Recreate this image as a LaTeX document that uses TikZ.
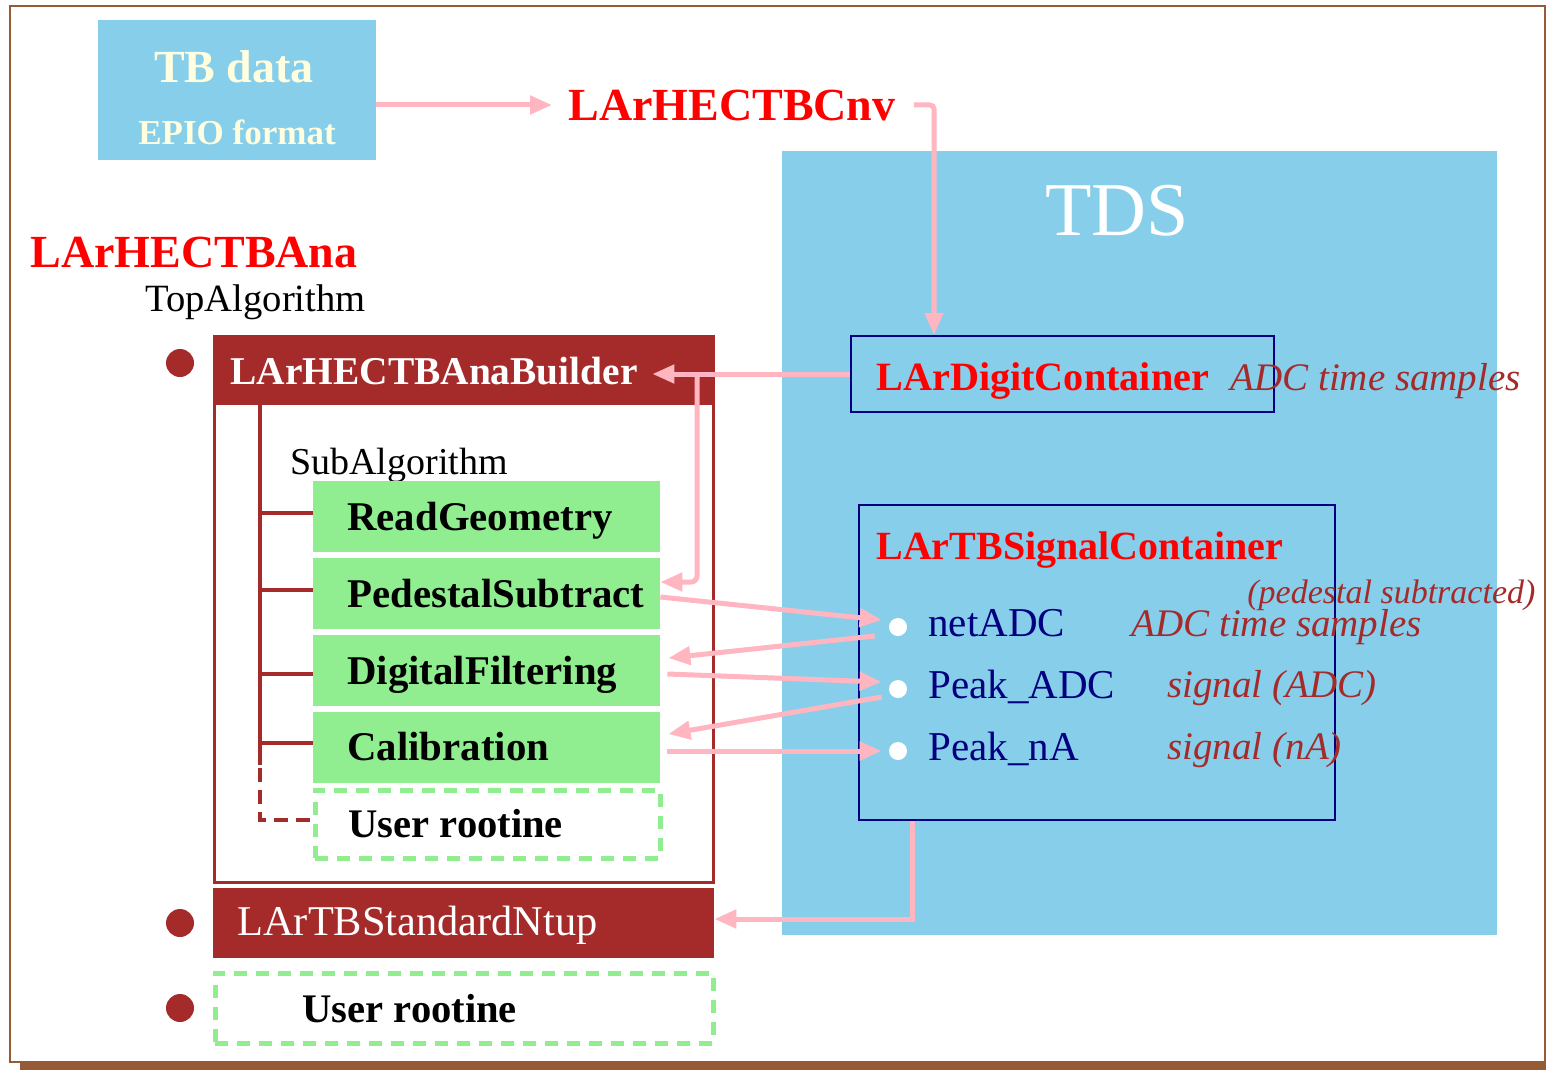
\documentclass[tikz,border=0pt]{standalone}
\usepackage{fontspec}
\setmainfont{Liberation Serif}
\usetikzlibrary{arrows.meta,calc}
\definecolor{sky}{RGB}{135,206,235}
\definecolor{lgreen}{RGB}{144,238,144}
\definecolor{brownc}{RGB}{165,42,42}
\definecolor{navyc}{RGB}{0,0,128}
\definecolor{pinkc}{RGB}{255,182,193}
\definecolor{redc}{RGB}{255,0,0}
\definecolor{ivoryc}{RGB}{255,255,224}
\definecolor{framec}{RGB}{150,90,55}
\newcommand{\myfs}[1]{\fontsize{#1}{#1}\selectfont}
\begin{document}
\begin{tikzpicture}[x=0.5pt,y=-0.5pt,
  txt/.style={inner sep=0pt, anchor=base west},
  parr/.style={draw=pinkc, line width=2.5pt, -{Triangle[length=11pt,width=9pt]}},
  gbox/.style={fill=lgreen, draw=none, minimum width=173.5pt, minimum height=35.5pt, inner sep=0pt},
  udash/.style={draw=lgreen, line width=2.5pt, dash pattern=on 6.5pt off 4.5pt, inner sep=0pt},
  bbar/.style={fill=brownc, draw=none, inner sep=0pt},
  tree/.style={draw=brownc, line width=1.6pt},
  bull/.style={circle, fill=brownc, minimum size=14pt, inner sep=0pt},
  wdot/.style={circle, fill=white, minimum size=9pt, inner sep=0pt},
  cont/.style={draw=navyc, line width=1pt, inner sep=0pt},
  itbrown/.style={txt, text=brownc, font=\itshape}
]
\useasboundingbox (0,0) rectangle (1546,1070);
% frame
\draw[framec, line width=1pt] (9.5,6) rectangle (1545,1062);
\fill[framec] (20,1062) rectangle (1546,1070);

% TB data
\node[fill=sky, minimum width=139pt, minimum height=70pt, inner sep=0pt] (tbdata) at (237,90) {};
\node[inner sep=0pt, anchor=base, text=ivoryc, font=\bfseries\myfs{23}] (tbt1) at (234,83) {TB data};
\node[inner sep=0pt, anchor=base, text=ivoryc, font=\bfseries\myfs{17.5}] (tbt2) at (237,144) {EPIO format};

% converter
\node[inner sep=0pt, anchor=west, text=redc, font=\bfseries\myfs{23}] (cnv) at (568,105) {LArHECTBCnv};

% TDS
\node[fill=sky, minimum width=357.5pt, minimum height=392pt, inner sep=0pt] (tds) at (1139.5,543) {};
\node[inner sep=0pt, anchor=base, text=white, font=\myfs{38}] (tdst) at (1117,235) {TDS};

% LArDigitContainer
\node[cont, minimum width=211.5pt, minimum height=38pt] (digit) at (1062.5,374) {};
\node[txt, text=redc, font=\bfseries\myfs{20.1}] (digitt) at (876,390) {LArDigitContainer};
\node[itbrown, font=\itshape\myfs{19.5}] (digitd) at (1230,390) {ADC time samples};

% LArTBSignalContainer
\node[cont, minimum width=238pt, minimum height=157.5pt] (sig) at (1097,662.5) {};
\node[txt, text=redc, font=\bfseries\myfs{20}] (sigt) at (876,559) {LArTBSignalContainer};
\node[wdot] (dot1) at (898,627) {};
\node[wdot] (dot2) at (898,689) {};
\node[wdot] (dot3) at (898,751) {};
\node[txt, text=navyc, font=\myfs{20.5}] (net) at (928,636) {netADC};
\node[txt, text=navyc, font=\myfs{20.5}] (pkadc) at (928,698) {Peak\_ADC};
\node[txt, text=navyc, font=\myfs{20.5}] (pkna) at (928,760) {Peak\_nA};
\node[itbrown, font=\itshape\myfs{17}] (ped) at (1247,603) {(pedestal subtracted)};
\node[itbrown, font=\itshape\myfs{19.5}] (netd) at (1131,636) {ADC time samples};
\node[itbrown, font=\itshape\myfs{19.5}] (pkadcd) at (1167,697) {signal (ADC)};
\node[itbrown, font=\itshape\myfs{19.5}] (pknad) at (1167,759) {signal (nA)};

% LArHECTBAna
\node[txt, text=redc, font=\bfseries\myfs{23}] (ana) at (30,267) {LArHECTBAna};
\node[txt, font=\myfs{19.3}] (topalg) at (145,311) {TopAlgorithm};

% builder
\draw[brownc, line width=1.5pt] (214.5,336) rectangle (713,882);
\node[bbar, minimum width=251pt, minimum height=35pt] (builder) at (464,370) {};
\node[txt, text=white, font=\bfseries\myfs{19.7}] (buildert) at (230,384) {LArHECTBAnaBuilder};
\node[bull] (b1) at (180,363) {};
\node[txt, font=\myfs{19}] (subalg) at (290,474) {SubAlgorithm};

\node[gbox] (rg) at (486.5,516.5) {};
\node[gbox] (ps) at (486.5,593.5) {};
\node[gbox] (df) at (486.5,670) {};
\node[gbox] (cal) at (486.5,747) {};
\node[udash, minimum width=172.5pt, minimum height=34pt] (ur1) at (487.5,824) {};
\node[txt, font=\bfseries\myfs{20.4}] (rgt) at (347,530) {ReadGeometry};
\node[txt, font=\bfseries\myfs{20.4}] (pst) at (347,607) {PedestalSubtract};
\node[txt, font=\bfseries\myfs{20.4}] (dft) at (347,684) {DigitalFiltering};
\node[txt, font=\bfseries\myfs{20.4}] (calt) at (347,760) {Calibration};
\node[txt, font=\bfseries\myfs{20.3}] (ur1t) at (348,837) {User rootine};

% tree lines
\draw[tree] (260,405) -- (260,765);
\draw[tree, dash pattern=on 7pt off 4pt] (260,768) -- (260,820) -- (313,820);
\draw[tree] (260,513) -- (313,513);
\draw[tree] (260,590) -- (313,590);
\draw[tree] (260,674) -- (313,674);
\draw[tree] (260,743) -- (313,743);

% Ntup
\node[bbar, minimum width=250.5pt, minimum height=35pt] (ntup) at (463.5,923) {};
\node[txt, text=white, font=\myfs{21.2}] (ntupt) at (237,935) {LArTBStandardNtup};
\node[bull] (b2) at (180,923) {};
\node[udash, minimum width=249pt, minimum height=35pt] (ur2) at (464,1008) {};
\node[txt, font=\bfseries\myfs{20.3}] (ur2t) at (302,1022) {User rootine};
\node[bull] (b3) at (180,1008) {};

% arrows
\draw[parr] (tbdata.east |- cnv.west) -- ([xshift=-8pt]cnv.west);
\draw[parr, rounded corners=2pt] ([xshift=9pt]cnv.east) -| ([xshift=42pt]digit.north west);
\draw[parr] (digit.west) -- ([xshift=-31.5pt]builder.east |- digit.west);
\draw[parr, rounded corners=3pt] ([xshift=-76.5pt]digit.west) |- ([yshift=5.75pt]ps.east);
\draw[parr] ([yshift=-1.75pt]ps.east) -- ([xshift=-3.5pt,yshift=3.5pt]dot1.west);
\draw[parr] ([xshift=-7pt,yshift=-4.5pt]dot1.west) -- ([xshift=4pt,yshift=6pt]df.east);
\draw[parr] ([xshift=3.5pt,yshift=-2pt]df.east) -- ([xshift=-3.5pt,yshift=3.5pt]dot2.west);
\draw[parr] ([xshift=-3.5pt,yshift=-4pt]dot2.west) -- ([xshift=4pt,yshift=6.5pt]cal.east);
\draw[parr] ([xshift=3.5pt,yshift=-2pt]cal.east) -- ([xshift=-3.5pt]dot3.west);
\draw[parr] ([xshift=27pt]sig.south west) |- ([yshift=2pt]ntup.east);
\end{tikzpicture}
\end{document}
